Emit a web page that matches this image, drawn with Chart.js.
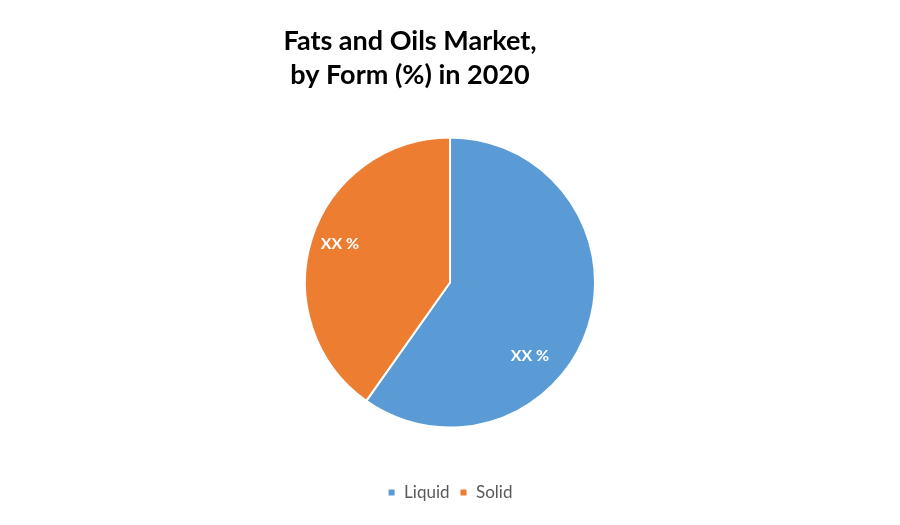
<!DOCTYPE html>
<html>
<head>
<meta charset="utf-8">
<script src="https://cdn.jsdelivr.net/npm/chart.js@4"></script>
<style>
  html, body { margin: 0; padding: 0; background: #ffffff; }
  #wrap { position: relative; width: 900px; height: 525px; }
</style>
</head>
<body>
<div id="wrap"><canvas id="c" width="900" height="525"></canvas></div>
<script>
const categories = ["Liquid", "Solid"];
const shares = [59.8, 40.2];
const sliceLabels = ["XX %", "XX %"];
const titleLines = ["Fats and Oils Market,", "by Form (%) in 2020"];
const colors = ["#5B9BD5", "#ED7D31"];

const FONT = "Lato, 'Open Sans', 'Liberation Sans', sans-serif";

const titlePlugin = {
  id: 'customTitle',
  afterDraw(chart, args, opts) {
    const ctx = chart.ctx;
    ctx.save();
    ctx.fillStyle = '#000000';
    ctx.font = 'bold ' + opts.size + 'px ' + FONT;
    ctx.textAlign = 'center';
    ctx.textBaseline = 'middle';
    opts.lines.forEach((t, i) => ctx.fillText(t, opts.x, opts.y + i * opts.lineHeight));
    ctx.restore();
  }
};

const sliceLabelPlugin = {
  id: 'sliceLabels',
  afterDatasetsDraw(chart, args, opts) {
    const ctx = chart.ctx;
    const meta = chart.getDatasetMeta(0);
    ctx.save();
    ctx.fillStyle = '#ffffff';
    ctx.font = 'bold ' + opts.size + 'px ' + FONT;
    ctx.textAlign = 'center';
    ctx.textBaseline = 'middle';
    meta.data.forEach((arc, i) => {
      const p = arc.getProps(['x', 'y', 'startAngle', 'endAngle', 'outerRadius'], true);
      const pl = opts.place[i];
      const a = p.startAngle + pl.frac * (p.endAngle - p.startAngle);
      const r = pl.r * p.outerRadius;
      ctx.fillText(opts.labels[i], p.x + r * Math.cos(a), p.y + r * Math.sin(a));
    });
    ctx.restore();
  }
};

new Chart(document.getElementById('c'), {
  type: 'pie',
  data: {
    labels: categories,
    datasets: [{
      data: shares,
      backgroundColor: colors,
      borderColor: '#ffffff',
      borderWidth: 2,
      radius: 145
    }]
  },
  options: {
    responsive: false,
    animation: false,
    layout: { padding: { top: 91, bottom: 14, left: 0, right: 0 } },
    plugins: {
      title: { display: false },
      tooltip: { enabled: false },
      legend: {
        position: 'bottom',
        labels: {
          boxWidth: 8,
          boxHeight: 8,
          padding: 10,
          color: '#595959',
          font: { family: FONT, size: 17 }
        }
      },
      customTitle: { lines: titleLines, x: 410, y: 41, lineHeight: 34, size: 27 },
      sliceLabels: {
        labels: sliceLabels,
        size: 16,
        place: [ { frac: 0.615, r: 0.746 }, { frac: 0.513, r: 0.805 } ]
      }
    }
  },
  plugins: [titlePlugin, sliceLabelPlugin]
});
</script>
</body>
</html>
